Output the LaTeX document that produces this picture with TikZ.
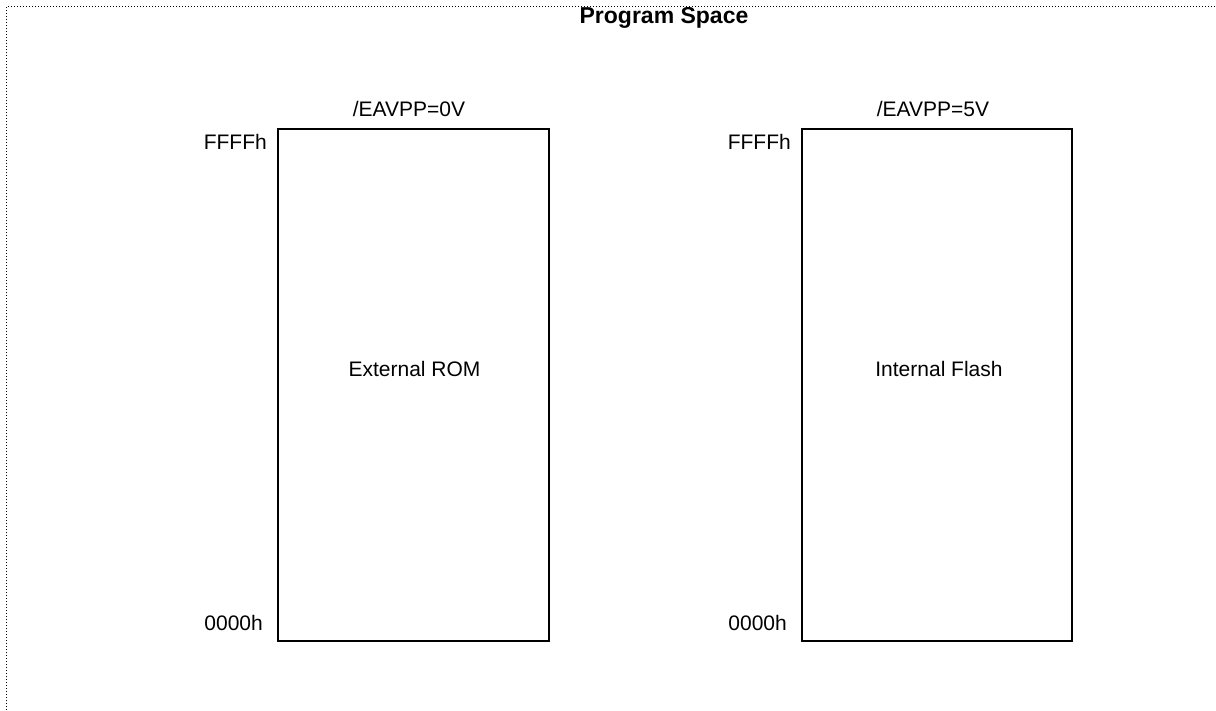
\documentclass[tikz,border=0pt]{standalone}
\usepackage{fontspec}
\setmainfont{Liberation Sans}
\begin{document}
\begin{tikzpicture}[x=1pt,y=-1pt,
  lbl/.style={inner sep=0pt,font=\fontsize{21}{25}\selectfont},
  ttl/.style={inner sep=0pt,font=\fontsize{23}{27}\selectfont\bfseries},
  mem/.style={draw=black,line width=1.3pt}]
\useasboundingbox (0,0) rectangle (1216,711);
\clip (0,0) rectangle (1216,711);
\draw[line width=1.3pt,black,dash pattern=on 1.2pt off 1.8pt] (6.5,740) -- (6.5,6.5) -- (1240,6.5);
\node[ttl] (title) at (664,18) {Program Space};
% left block
\node[mem,minimum width=271pt,minimum height=512pt,inner sep=0pt] (rom) at (413.5,385) {};
\node[lbl] (romtxt) at (414.5,369) {External ROM};
\node[lbl] (v0) at (409,109) {/EAVPP=0V};
\node[lbl,anchor=east] (f1) at (267,142) {FFFFh};
\node[lbl,anchor=east] (z1) at (263,623) {0000h};
% right block
\node[mem,minimum width=270pt,minimum height=512pt,inner sep=0pt] (flash) at (937,385) {};
\node[lbl] (flashtxt) at (939,369) {Internal Flash};
\node[lbl] (v5) at (933,109) {/EAVPP=5V};
\node[lbl,anchor=east] (f2) at (791,142) {FFFFh};
\node[lbl,anchor=east] (z2) at (787,623) {0000h};
\end{tikzpicture}
\end{document}
